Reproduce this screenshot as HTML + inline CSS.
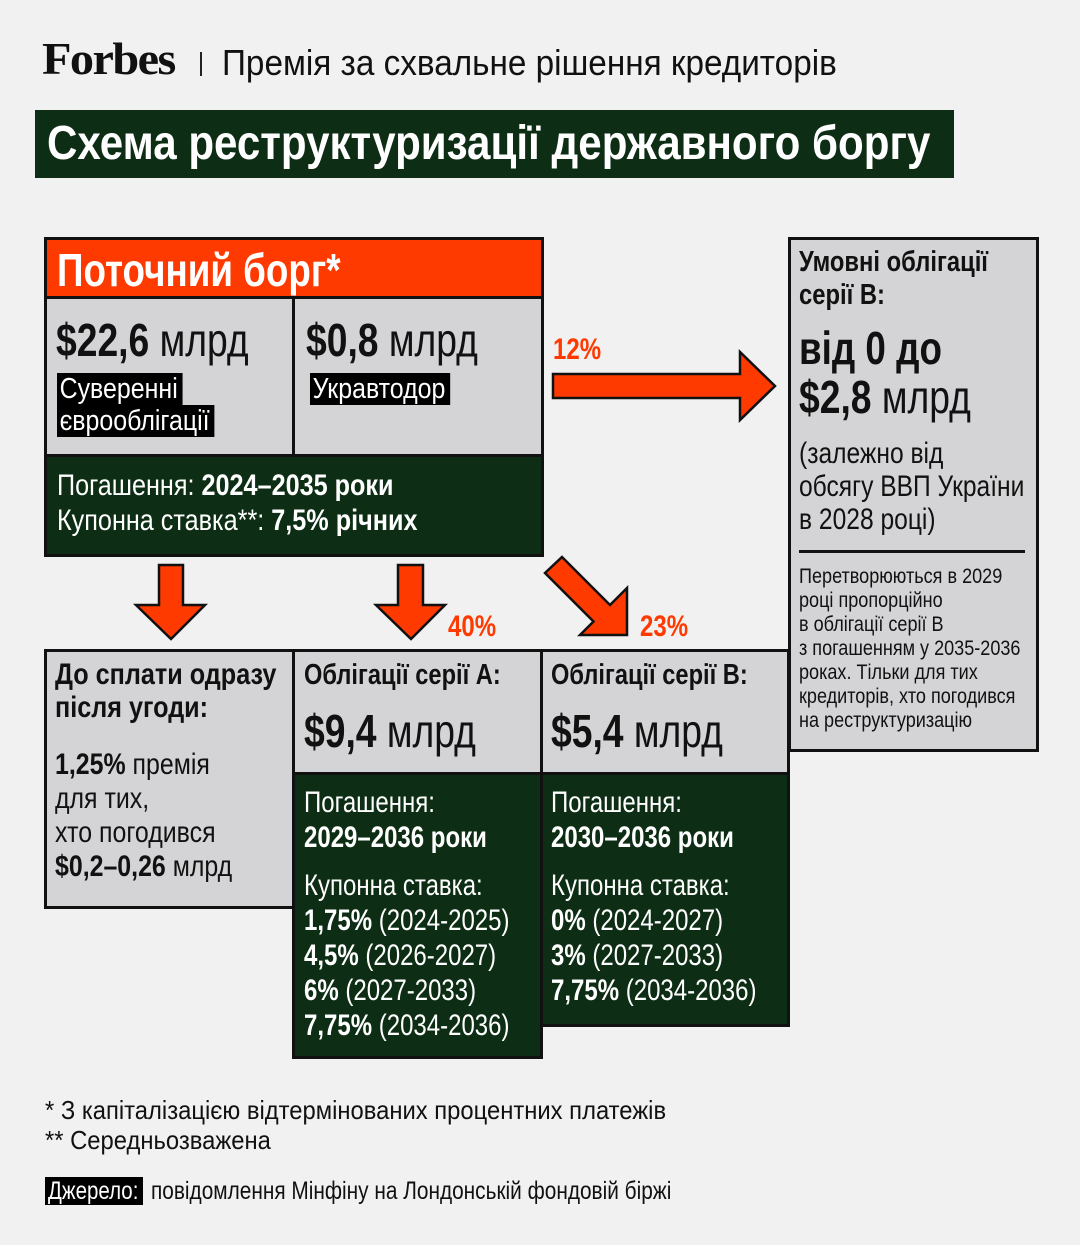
<!DOCTYPE html>
<html><head><meta charset="utf-8"><style>
*{margin:0;padding:0;box-sizing:border-box}
body{width:1080px;height:1245px;background:#f1f1f1;position:relative;overflow:hidden;font-family:"Liberation Sans",sans-serif;color:#111}
.t{position:absolute;transform:scaleX(.8);transform-origin:0 0;white-space:nowrap}
.b{font-weight:bold}
.box{position:absolute;border:3px solid #111}
.g{background:#d4d4d6}
.gr{background:#0d2d14}
.w{color:#fff}
.hl{background:#000;color:#fff;padding:0 6px 0 3px}
.r{color:#ff3a00}
</style></head><body>
<div class="t b" style="left:42px;top:34px;font-family:'Liberation Serif',serif;font-size:46px;line-height:50px;transform:scaleX(1.05);letter-spacing:-1.5px">Forbes</div>
<div style="position:absolute;left:200px;top:52px;width:2px;height:24px;background:#222"></div>
<div class="t" style="left:222px;top:43px;font-size:36px;line-height:40px;transform:scaleX(.925)">Премія за схвальне рішення кредиторів</div>
<div style="position:absolute;left:35px;top:110px;width:919px;height:68px;background:#0d2d14"></div>
<div class="t b w" style="left:47px;top:116px;font-size:48px;line-height:56px;transform:scaleX(.877)">Схема реструктуризації державного боргу</div>

<!-- current debt -->
<div class="box" style="left:44px;top:237px;width:500px;height:320px;background:#0d2d14"></div>
<div style="position:absolute;left:47px;top:240px;width:494px;height:56px;background:#ff3a00"></div>
<div style="position:absolute;left:47px;top:299px;width:245px;height:155px" class="g"></div>
<div style="position:absolute;left:295px;top:299px;width:246px;height:155px" class="g"></div>
<div style="position:absolute;left:47px;top:296px;width:494px;height:3px;background:#111"></div>
<div style="position:absolute;left:292px;top:296px;width:3px;height:160px;background:#111"></div>
<div style="position:absolute;left:47px;top:454px;width:494px;height:3px;background:#111"></div>
<div class="t b w" style="left:57px;top:244px;font-size:46px;line-height:52px">Поточний борг*</div>
<div class="t" style="left:56px;top:314px;font-size:46px;line-height:52px;transform:scaleX(.81)"><b>$22,6</b> млрд</div>
<div class="t" style="left:306px;top:314px;font-size:46px;line-height:52px;transform:scaleX(.81)"><b>$0,8</b> млрд</div>
<div class="t" style="left:57px;top:373px;font-size:29px;line-height:32px;transform:scaleX(.86)"><span class="hl">Суверенні</span><br><span class="hl">єврооблігації</span></div>
<div class="t" style="left:310px;top:373px;font-size:29px;line-height:32px;transform:scaleX(.86)"><span class="hl">Укравтодор</span></div>
<div class="t w" style="left:57px;top:468px;font-size:30px;line-height:35px;transform:scaleX(.84)">Погашення: <b>2024–2035 роки</b><br>Купонна ставка**: <b>7,5% річних</b></div>

<!-- arrows -->
<svg width="1080" height="1245" style="position:absolute;left:0;top:0" >
<g fill="#ff3a00" stroke="#111" stroke-width="2.5" stroke-linejoin="miter">
<polygon points="553,374 740,374 740,352 775,386 740,420 740,398 553,398"/>
<polygon points="159,565 183,565 183,605 205,605 171,639 136,605 159,605"/>
<polygon points="398,565 423,565 423,605 445,605 411,639 376,605 398,605"/>
<polygon points="562,557 610,605 627,588 627,635 580,635 593.5,621.5 545,573"/>
</g></svg>
<div class="t b r" style="left:553px;top:334px;font-size:30px;line-height:32px">12%</div>
<div class="t b r" style="left:448px;top:611px;font-size:30px;line-height:32px">40%</div>
<div class="t b r" style="left:640px;top:611px;font-size:30px;line-height:32px">23%</div>

<!-- right box -->
<div class="box g" style="left:788px;top:237px;width:251px;height:515px"></div>
<div class="t b" style="left:799px;top:246px;font-size:29px;line-height:33px;transform:scaleX(.82)">Умовні облігації<br>серії В:</div>
<div class="t b" style="left:799px;top:323px;font-size:46px;line-height:50px">від 0 до</div>
<div class="t" style="left:799px;top:372px;font-size:46px;line-height:50px;transform:scaleX(.81)"><b>$2,8</b> млрд</div>
<div class="t" style="left:799px;top:437px;font-size:30px;line-height:33px;transform:scaleX(.82)">(залежно від<br>обсягу ВВП України<br>в 2028 році)</div>
<div style="position:absolute;left:799px;top:550px;width:226px;height:3px;background:#111"></div>
<div class="t" style="left:799px;top:565px;font-size:21px;line-height:24px;transform:scaleX(.86)">Перетворюються в 2029<br>році пропорційно<br>в облігації серії В<br>з погашенням у 2035-2036<br>роках. Тільки для тих<br>кредиторів, хто погодився<br>на реструктуризацію</div>

<!-- bottom boxes -->
<div class="box g" style="left:44px;top:649px;width:251px;height:260px"></div>
<div class="t b" style="left:55px;top:658px;font-size:30px;line-height:33px;transform:scaleX(.84)">До сплати одразу<br>після угоди:</div>
<div class="t" style="left:55px;top:748px;font-size:30px;line-height:34px;transform:scaleX(.83)"><b>1,25%</b> премія<br>для тих,<br>хто погодився<br><b>$0,2–0,26</b> млрд</div>

<div class="box gr" style="left:292px;top:649px;width:251px;height:410px"></div>
<div style="position:absolute;left:295px;top:652px;width:245px;height:120px" class="g"></div>
<div style="position:absolute;left:295px;top:772px;width:245px;height:3px;background:#111"></div>
<div class="t b" style="left:304px;top:658px;font-size:29px;line-height:34px;transform:scaleX(.815)">Облігації серії А:</div>
<div class="t" style="left:304px;top:705px;font-size:46px;line-height:52px;transform:scaleX(.81)"><b>$9,4</b> млрд</div>
<div class="t w" style="left:304px;top:785px;font-size:30px;line-height:35px">Погашення:<br><b>2029–2036 роки</b></div>
<div class="t w" style="left:304px;top:868px;font-size:30px;line-height:35px">Купонна ставка:<br><b>1,75%</b> (2024-2025)<br><b>4,5%</b> (2026-2027)<br><b>6%</b> (2027-2033)<br><b>7,75%</b> (2034-2036)</div>

<div class="box gr" style="left:540px;top:649px;width:250px;height:378px"></div>
<div style="position:absolute;left:543px;top:652px;width:244px;height:120px" class="g"></div>
<div style="position:absolute;left:543px;top:772px;width:244px;height:3px;background:#111"></div>
<div class="t b" style="left:551px;top:658px;font-size:29px;line-height:34px;transform:scaleX(.815)">Облігації серії В:</div>
<div class="t" style="left:551px;top:705px;font-size:46px;line-height:52px;transform:scaleX(.81)"><b>$5,4</b> млрд</div>
<div class="t w" style="left:551px;top:785px;font-size:30px;line-height:35px">Погашення:<br><b>2030–2036 роки</b></div>
<div class="t w" style="left:551px;top:868px;font-size:30px;line-height:35px">Купонна ставка:<br><b>0%</b> (2024-2027)<br><b>3%</b> (2027-2033)<br><b>7,75%</b> (2034-2036)</div>

<!-- footnotes -->
<div class="t" style="left:45px;top:1095px;font-size:26px;line-height:30px;transform:scaleX(.915)">* З капіталізацією відтермінованих процентних платежів<br>** Середньозважена</div>
<div style="position:absolute;left:45px;top:1177px;width:98px;height:28px;background:#000"></div>
<div class="t w" style="left:48px;top:1178px;font-size:25px;line-height:26px;transform:scaleX(.82)">Джерело:</div>
<div class="t" style="left:151px;top:1178px;font-size:25px;line-height:26px;transform:scaleX(.833)">повідомлення Мінфіну на Лондонській фондовій біржі</div>
</body></html>
